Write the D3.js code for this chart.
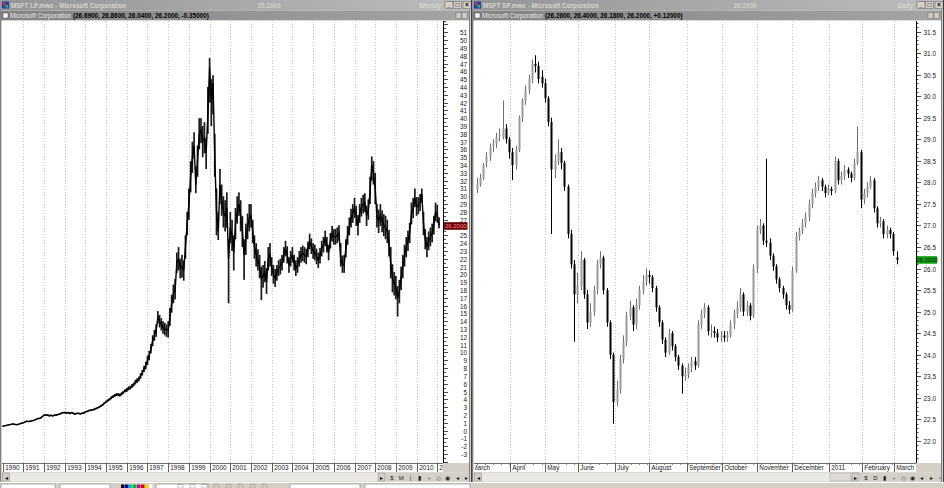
<!DOCTYPE html>
<html><head><meta charset="utf-8">
<script src="https://cdn.jsdelivr.net/npm/d3@7"></script>
<style>
html,body{margin:0;padding:0;background:#d4d0c8;overflow:hidden}
svg{display:block;font-family:"Liberation Sans",Arial,sans-serif}
</style></head><body>
<svg id="c" width="944" height="488"></svg>
<script>
// ---------- Left panel: weekly chart (monthly samples, Jan 1990 .. Feb 2011) ----------
const yearLabels = ['1990','1991','1992','1993','1994','1995','1996','1997','1998','1999','2000',
  '2001','2002','2003','2004','2005','2006','2007','2008','2009','2010','2011'];
const wClose = [
0.55,0.60,0.65,0.70,0.75,0.80,0.85,0.80,0.75,0.80,0.85,0.95,
1.00,1.10,1.20,1.15,1.20,1.25,1.30,1.40,1.50,1.55,1.60,1.80,
1.95,2.00,2.00,1.90,1.95,1.90,1.95,2.00,2.05,2.10,2.20,2.30,
2.30,2.25,2.30,2.20,2.30,2.20,2.10,2.20,2.20,2.15,2.20,2.25,
2.40,2.45,2.55,2.60,2.65,2.70,2.80,2.90,3.00,3.15,3.30,3.50,
3.70,3.85,4.00,4.20,4.35,4.50,4.60,4.60,4.55,4.70,4.90,5.10,
5.20,5.40,5.50,5.70,5.90,6.20,6.40,6.60,7.00,7.40,7.90,8.30,
9.00,9.60,10.5,11.5,12.2,12.8,14.5,14.0,13.6,13.2,13.0,12.9,
12.9,14.5,16.2,17.5,18.0,21.5,22.0,20.8,21.0,20.5,23.5,26.5,
29.0,32.5,35.0,36.5,31.5,34.5,38.0,38.5,37.0,37.5,35.5,40.5,
46.5,42.0,44.5,35.0,28.0,25.5,31.5,29.5,28.0,27.5,28.5,22.0,
26.0,25.0,22.8,26.5,28.0,29.0,27.5,25.5,22.5,24.5,26.0,27.2,
27.5,25.5,23.5,22.5,21.8,21.0,19.5,19.8,20.3,19.0,22.0,22.5,
21.0,20.0,19.5,20.2,20.8,21.0,21.5,22.5,23.3,22.5,21.2,22.0,
22.5,21.5,20.8,21.2,22.0,22.5,22.7,22.5,22.3,23.2,24.2,23.6,
23.0,22.8,22.3,21.8,22.4,23.3,23.8,24.6,23.8,22.8,24.3,25.2,
24.8,24.8,25.0,25.3,22.0,21.2,21.3,23.3,25.0,26.1,27.2,27.8,
28.5,27.5,26.3,27.8,28.6,29.0,29.2,27.5,28.3,30.5,34.0,33.0,
31.0,27.5,26.8,27.6,26.8,26.3,26.0,25.5,24.0,21.5,19.5,18.8,
18.3,17.0,17.8,19.5,21.0,22.4,23.5,24.3,25.3,27.8,28.5,29.8,
28.7,28.8,29.2,30.3,26.5,24.5,23.5,24.3,24.8,25.3,26.3,28.0,
27.5,26.3];
const wHigh = [
0.62,0.67,0.72,0.77,0.82,0.88,0.92,0.88,0.82,0.87,0.92,1.02,
1.08,1.18,1.28,1.24,1.28,1.33,1.38,1.48,1.58,1.64,1.70,1.90,
2.06,2.12,2.10,2.02,2.05,2.00,2.05,2.10,2.15,2.20,2.30,2.40,
2.42,2.36,2.40,2.32,2.40,2.32,2.22,2.30,2.30,2.26,2.30,2.36,
2.50,2.56,2.66,2.70,2.76,2.82,2.92,3.02,3.12,3.28,3.44,3.64,
3.85,4.00,4.15,4.38,4.52,4.68,4.80,4.80,4.74,4.90,5.10,5.30,
5.45,5.65,5.75,5.95,6.15,6.50,6.70,6.90,7.35,7.75,8.30,8.80,
9.60,10.2,11.1,12.2,12.9,13.6,15.3,14.8,14.4,14.0,13.8,13.6,
14.0,15.7,17.4,18.7,19.4,22.8,23.5,22.0,22.5,21.8,25.0,28.0,
31.0,34.5,37.0,38.2,33.8,36.5,40.0,40.0,39.0,39.5,37.5,44.0,
47.7,45.0,45.5,38.0,31.0,28.0,33.5,31.5,30.0,29.5,30.5,24.5,
28.0,27.0,25.0,28.5,30.0,30.5,29.5,27.5,24.5,26.5,27.8,29.0,
29.0,27.0,25.0,24.0,23.2,22.5,21.0,21.2,21.7,20.8,23.5,24.0,
22.2,21.2,20.7,21.2,21.8,22.0,22.5,23.5,24.3,23.6,22.2,23.0,
23.5,22.5,21.8,22.2,23.0,23.5,23.7,23.5,23.3,24.2,25.2,24.6,
24.0,23.8,23.3,22.8,23.4,24.3,24.8,25.6,24.8,23.8,25.3,26.2,
25.8,25.8,26.0,26.3,24.0,22.4,22.5,24.5,26.2,27.3,28.4,29.0,
29.8,28.8,27.6,29.0,29.8,30.2,30.4,28.8,29.6,32.5,35.1,34.5,
33.0,29.0,28.3,29.0,28.2,27.7,27.5,27.0,25.7,23.5,21.3,20.3,
19.8,18.5,19.3,21.0,22.5,23.8,24.8,25.6,26.6,29.2,29.8,31.0,
29.9,29.9,30.3,31.0,28.0,25.8,24.8,25.5,26.0,26.5,27.5,29.2,
28.9,27.3];
const wLow = [
0.50,0.55,0.60,0.65,0.70,0.75,0.78,0.74,0.70,0.74,0.80,0.88,
0.94,1.02,1.12,1.08,1.12,1.18,1.22,1.32,1.42,1.47,1.52,1.70,
1.86,1.90,1.90,1.80,1.85,1.80,1.85,1.90,1.95,2.00,2.10,2.20,
2.20,2.14,2.20,2.10,2.20,2.10,2.00,2.10,2.10,2.05,2.10,2.15,
2.30,2.35,2.44,2.50,2.55,2.60,2.70,2.80,2.90,3.02,3.16,3.36,
3.55,3.70,3.85,4.02,4.18,4.32,4.42,4.40,4.36,4.50,4.70,4.90,
4.95,5.15,5.25,5.45,5.65,5.90,6.10,6.30,6.65,7.05,7.50,7.85,
8.40,9.00,9.90,10.8,11.5,12.0,13.7,13.2,12.8,12.4,12.2,12.0,
11.9,13.4,15.1,16.3,16.8,20.2,20.5,19.5,19.6,19.2,22.0,25.0,
27.0,30.5,33.0,34.8,30.4,32.5,36.0,36.8,35.0,35.5,33.5,38.0,
42.0,39.0,40.5,32.5,25.0,24.4,29.0,27.5,26.0,25.5,26.0,16.3,
24.0,23.0,20.5,24.5,26.5,27.5,25.5,23.5,19.3,22.5,24.5,25.5,
26.0,24.0,22.0,21.0,20.5,19.5,16.7,18.3,19.0,17.5,20.5,21.0,
19.8,18.8,18.4,19.2,19.8,20.0,20.5,21.5,22.3,21.4,20.2,21.0,
21.5,20.5,19.8,20.2,21.0,21.5,21.7,21.5,21.3,22.2,23.2,22.6,
22.0,21.8,21.3,20.8,21.4,22.3,22.8,23.6,22.8,21.8,23.3,24.2,
23.8,23.8,24.0,24.3,21.0,20.2,20.2,22.2,23.8,25.0,26.0,26.6,
27.2,26.2,25.0,26.6,27.4,27.8,28.0,26.2,27.0,29.0,32.0,31.5,
29.0,26.0,25.3,26.2,25.4,24.9,24.5,24.0,22.3,19.5,17.7,17.3,
16.8,14.6,16.3,18.0,19.5,21.0,22.2,23.0,24.0,26.4,27.2,28.6,
27.5,27.7,28.1,29.2,25.0,23.2,22.2,23.1,23.6,24.1,25.1,26.8,
26.6,25.9];

// ---------- Right panel: daily candles (one candle per two sessions, Mar 2010 .. Mar 2011) ----------
const monthLabels = ['March','April','May','June','July','August','September','October',
  'November','December','2011','February','March'];
const monthStarts = [-1.9,10.2,20.9,31.1,42.5,53.1,64.5,75.4,86.2,96.9,108.2,118.4,128.1];
const dOpen = [
27.85,27.95,28.10,28.45,28.60,28.85,28.90,29.10,29.05,29.25,29.00,28.70,28.40,28.75,29.50,29.90,30.15,30.40,30.75,30.70,
30.45,30.30,29.95,29.40,28.30,28.50,28.70,28.45,27.90,26.80,26.10,25.40,25.60,26.20,25.40,24.75,25.00,25.50,26.10,26.25,
25.50,24.75,24.00,22.90,23.20,23.90,24.30,24.90,25.10,24.70,25.15,25.50,25.70,25.85,25.80,25.55,25.10,24.75,24.35,24.05,
24.50,24.20,23.95,23.75,23.50,23.55,23.70,23.85,23.75,24.70,24.95,25.10,24.55,24.55,24.50,24.40,24.45,24.40,24.45,24.70,
24.95,25.10,25.40,25.00,25.15,24.90,26.00,26.90,27.00,26.65,26.60,26.30,26.05,25.75,25.55,25.40,25.15,25.05,25.95,26.75,
26.88,27.05,27.20,27.50,27.75,27.90,28.05,27.90,27.75,27.85,27.80,28.50,28.05,28.15,28.30,28.20,28.10,28.45,28.70,27.60,
27.75,27.90,28.05,27.40,27.05,27.10,26.80,26.90,26.80,26.26];
const dHigh = [
28.10,28.20,28.45,28.70,28.90,29.00,29.15,29.25,29.90,29.35,29.05,28.80,28.85,29.55,29.95,30.25,30.50,30.85,30.95,30.80,
30.60,30.40,30.00,29.50,28.65,29.00,28.80,28.50,27.95,26.90,26.20,25.90,26.40,26.25,25.50,25.20,25.60,26.20,26.40,26.30,
25.55,24.80,24.05,23.40,24.00,24.45,25.00,25.25,25.15,25.30,25.60,25.85,26.00,25.95,25.85,25.60,25.15,24.80,24.40,24.60,
24.55,24.25,24.00,23.80,23.70,23.80,23.95,23.95,24.80,25.05,25.20,25.15,24.70,24.65,24.60,24.55,24.55,24.55,24.80,25.05,
25.25,25.55,25.45,25.25,25.20,26.10,27.00,27.15,27.05,28.55,26.70,26.35,26.10,25.80,25.60,25.45,25.25,26.05,26.85,26.95,
27.15,27.30,27.60,27.85,28.00,28.15,28.10,27.95,27.95,27.90,28.60,28.55,28.25,28.40,28.35,28.25,28.55,29.30,28.75,27.85,
28.00,28.15,28.10,27.45,27.20,27.15,27.00,26.95,26.85,26.40];
const dLow = [
27.75,27.90,28.05,28.35,28.50,28.70,28.80,28.95,29.00,28.90,28.55,28.05,28.30,28.70,29.40,29.80,30.05,30.30,30.55,30.30,
30.20,29.85,29.30,26.80,28.10,28.40,28.30,27.80,26.70,26.00,24.30,25.20,25.50,25.30,24.60,24.65,24.90,25.40,26.00,25.40,
24.65,23.90,22.40,22.80,23.10,23.80,24.20,24.80,24.55,24.60,25.05,25.40,25.60,25.65,25.45,25.00,24.65,24.25,23.95,24.00,
24.10,23.85,23.65,23.10,23.40,23.45,23.60,23.65,23.70,24.60,24.85,24.45,24.40,24.40,24.30,24.30,24.30,24.30,24.40,24.60,
24.85,25.00,24.90,24.90,24.80,24.85,25.90,26.80,26.55,26.50,26.20,25.95,25.65,25.45,25.30,25.05,24.95,25.00,25.90,26.65,
26.80,26.95,27.10,27.40,27.65,27.80,27.80,27.65,27.70,27.70,27.75,27.95,27.95,28.05,28.10,28.00,28.05,28.40,27.40,27.50,
27.65,27.85,27.30,26.95,26.95,26.70,26.70,26.70,26.30,26.10];
const dClose = [
27.95,28.10,28.40,28.60,28.80,28.90,29.05,29.10,29.25,29.00,28.70,28.40,28.75,29.50,29.90,30.15,30.40,30.75,30.70,30.40,
30.30,29.95,29.40,28.30,28.50,28.70,28.45,27.90,26.80,26.10,25.40,25.60,26.20,25.40,24.75,25.00,25.50,26.10,26.25,25.50,
24.75,24.00,22.90,23.20,23.90,24.30,24.90,25.10,24.70,25.15,25.50,25.70,25.85,25.80,25.55,25.10,24.75,24.35,24.05,24.50,
24.20,23.95,23.75,23.50,23.55,23.70,23.85,23.75,24.70,24.95,25.10,24.55,24.55,24.50,24.40,24.45,24.40,24.45,24.70,24.95,
25.10,25.40,25.00,25.15,24.90,26.00,26.90,27.00,26.65,26.60,26.30,26.05,25.75,25.55,25.40,25.15,25.05,25.95,26.75,26.88,
27.05,27.20,27.50,27.75,27.90,28.05,27.90,27.75,27.85,27.80,28.50,28.05,28.15,28.30,28.20,28.10,28.45,28.70,27.60,27.75,
27.90,28.05,27.40,27.05,27.10,26.80,26.90,26.80,26.40,26.20];

const lastPrice = 26.20;
const leftInfo = '(26.6900, 26.8600, 26.0400, 26.2000, -0.35000)';
const rightInfo = '(26.2600, 26.4000, 26.1800, 26.2000, +0.12000)';

// ---------------------------------------------------------------------------
const svg = d3.select('#c');
const defs = svg.append('defs');
function grad(id, a, b) {
  const g = defs.append('linearGradient').attr('id', id);
  g.append('stop').attr('offset', '0%').attr('stop-color', a);
  g.append('stop').attr('offset', '100%').attr('stop-color', b);
}
grad('tb', '#959595', '#bcbcbc');
grad('tb2', '#838383', '#a4a4a4');

const FS = 6.4;
const TOP = 21, BOT = 463;

function windowFrame(X, W, o) {
  const g = svg.append('g');
  g.append('rect').attr('x', X).attr('y', 0).attr('width', W).attr('height', 10).attr('fill', 'url(#tb)');
  g.append('rect').attr('x', X + 2).attr('y', 1.5).attr('width', 7).attr('height', 7).attr('fill', '#2040b0');
  g.append('rect').attr('x', X + 3).attr('y', 2.5).attr('width', 2.5).attr('height', 2.5).attr('fill', '#e03030');
  g.append('rect').attr('x', X + 5.5).attr('y', 5).attr('width', 2.5).attr('height', 2.5).attr('fill', '#30c040');
  g.append('text').attr('x', X + 11).attr('y', 7.6).attr('font-size', FS).attr('font-weight', 'bold')
    .attr('fill', '#d6d4ce').text(o.title);
  g.append('text').attr('x', o.priceX).attr('y', 7.6).attr('font-size', FS).attr('font-weight', 'bold')
    .attr('text-anchor', 'middle').attr('fill', '#d2d0ca').text('26.2000');
  g.append('text').attr('x', o.periodX).attr('y', 7.6).attr('font-size', FS).attr('font-weight', 'bold')
    .attr('text-anchor', 'end').attr('fill', '#d8d6d0').text(o.period);
  const bx = X + W - 27;
  ['_', '□', '×'].forEach((s, i) => {
    const x = bx + i * 8.5 + (i === 2 ? 1 : 0);
    g.append('rect').attr('x', x).attr('y', 1.5).attr('width', 8).attr('height', 7)
      .attr('fill', '#d4d0c8').attr('stroke', '#606060').attr('stroke-width', 0.5);
    g.append('text').attr('x', x + 4).attr('y', 7.2).attr('font-size', 6.5).attr('font-weight', 'bold')
      .attr('text-anchor', 'middle').attr('fill', '#000').text(s);
  });
  g.append('rect').attr('x', X + 1).attr('y', 10.5).attr('width', W - 3).attr('height', 10).attr('fill', 'url(#tb2)');
  g.append('rect').attr('x', X + 3).attr('y', 13).attr('width', 5).attr('height', 5).attr('fill', '#fff')
    .attr('stroke', '#404040').attr('stroke-width', 0.5);
  const t = g.append('text').attr('x', X + 10).attr('y', 18).attr('font-size', FS);
  t.append('tspan').attr('fill', '#e6e6e6').text('Microsoft Corporation ');
  t.append('tspan').attr('fill', '#000').attr('font-weight', 'bold').text(o.info);
  [0, 1].forEach(i => {
    const x = X + W - 16 + i * 6;
    g.append('rect').attr('x', x).attr('y', 12.5).attr('width', 5).attr('height', 6)
      .attr('fill', '#d4d0c8').attr('stroke', '#707070').attr('stroke-width', 0.5);
  });
  g.append('rect').attr('x', X + 2).attr('y', TOP - 0.5).attr('width', W - 5).attr('height', BOT - TOP + 0.5).attr('fill', '#fff');
  g.append('rect').attr('x', X + 2).attr('y', BOT).attr('width', o.axisX - X - 2).attr('height', 9).attr('fill', '#fff');
  g.append('line').attr('x1', X + 2).attr('x2', o.axisX).attr('y1', BOT + 0.5).attr('y2', BOT + 0.5).attr('stroke', '#707070');
  g.append('rect').attr('x', X + 2).attr('y', 472.5).attr('width', W - 5).attr('height', 9).attr('fill', '#ebe9e4');
  g.append('rect').attr('x', X + 2.5).attr('y', 473).attr('width', 7).attr('height', 8).attr('fill', '#d4d0c8')
    .attr('stroke', '#808080').attr('stroke-width', 0.5);
  g.append('text').attr('x', X + 6).attr('y', 479.5).attr('font-size', 6).attr('text-anchor', 'middle').text('◂');
  if (o.thumb) {
    g.append('rect').attr('x', o.thumb[0]).attr('y', 473).attr('width', o.thumb[1]).attr('height', 8)
      .attr('fill', '#dddad3').attr('stroke', '#a0a0a0').attr('stroke-width', 0.5);
  }
  g.append('rect').attr('x', o.tools - 8).attr('y', 473).attr('width', 7).attr('height', 8).attr('fill', '#d4d0c8')
    .attr('stroke', '#808080').attr('stroke-width', 0.5);
  g.append('text').attr('x', o.tools - 4.5).attr('y', 479.5).attr('font-size', 6).attr('text-anchor', 'middle').text('▸');
  g.append('rect').attr('x', o.tools).attr('y', 472.5).attr('width', X + W - 3 - o.tools).attr('height', 9).attr('fill', '#d4d0c8');
  o.glyphs.forEach((s, i) => {
    g.append('text').attr('x', o.tools + 6 + i * 9.3).attr('y', 479.6).attr('font-size', 6)
      .attr('text-anchor', 'middle').attr('fill', s === '+' || s === '◎' ? '#707070' : '#202020').text(s);
  });
  g.append('line').attr('x1', X + 0.5).attr('x2', X + 0.5).attr('y1', 10).attr('y2', 482).attr('stroke', '#808080');
  g.append('line').attr('x1', X + W - 2.5).attr('x2', X + W - 2.5).attr('y1', 10).attr('y2', 482).attr('stroke', '#808080');
  g.append('line').attr('x1', X + W - 0.5).attr('x2', X + W - 0.5).attr('y1', 0).attr('y2', 482).attr('stroke', '#404040');
}

windowFrame(0, 472, {title: 'MSFT LP.mwc - Microsoft Corporation', priceX: 269, period: 'Weekly', periodX: 441,
  info: leftInfo, axisX: 443, tools: 386, glyphs: ['$', 'M', '|', '▮', '+', '◎', '◉', '◂', '▸', '▫']});
windowFrame(472, 472, {title: 'MSFT SP.mwc - Microsoft Corporation', priceX: 745, period: 'Daily', periodX: 913,
  info: rightInfo, axisX: 916, tools: 860, thumb: [830, 21], glyphs: ['$', 'D', '▮', '+', '◎', '◉', '◂', '▸', '▫']});

defs.append('clipPath').attr('id', 'clipL').append('rect').attr('x', 2).attr('y', TOP).attr('width', 441).attr('height', BOT - TOP);
defs.append('clipPath').attr('id', 'clipR').append('rect').attr('x', 475).attr('y', TOP).attr('width', 441).attr('height', BOT - TOP);
defs.append('clipPath').attr('id', 'stripL').append('rect').attr('x', 2).attr('y', BOT).attr('width', 441).attr('height', 9);
defs.append('clipPath').attr('id', 'stripR').append('rect').attr('x', 475).attr('y', BOT).attr('width', 441).attr('height', 9);

// ---------- Left chart ----------
const xL = d3.scaleLinear().domain([0, 252]).range([2.6, 437.3]);
const yL = d3.scaleLinear().domain([-3, 51]).range([454.0, 32.3]);
const gL = svg.append('g').attr('clip-path', 'url(#clipL)');
yearLabels.forEach((lab, k) => {
  if (k === 0) return;
  const x = Math.round(xL(k * 12)) + 0.5;
  gL.append('line').attr('x1', x).attr('x2', x).attr('y1', TOP).attr('y2', BOT)
    .attr('stroke', '#c8c8c8').attr('stroke-dasharray', '1,2');
});
const sL = svg.append('g').attr('clip-path', 'url(#stripL)');
yearLabels.forEach((lab, k) => {
  const x = Math.round(xL(k * 12)) + 0.5;
  sL.append('line').attr('x1', x).attr('x2', x).attr('y1', BOT).attr('y2', BOT + 9).attr('stroke', '#606060');
  sL.append('text').attr('x', x + 1.8).attr('y', BOT + 7.3).attr('font-size', FS).attr('fill', '#202020').text(lab);
});
gL.selectAll('rect.bar').data(wClose).enter().append('rect')
  .attr('x', (d, i) => xL(i) - 0.85).attr('width', 1.7)
  .attr('y', (d, i) => yL(wHigh[i])).attr('height', (d, i) => Math.max(0.8, yL(wLow[i]) - yL(wHigh[i])))
  .attr('fill', '#1a1a1a');
gL.append('path').datum(wClose)
  .attr('d', d3.line().x((d, i) => xL(i)).y(d => yL(d)))
  .attr('fill', 'none').attr('stroke', '#000').attr('stroke-width', 1.4);

// left y axis
const aL = svg.append('g');
const markL = yL(lastPrice);
aL.append('line').attr('x1', 443.5).attr('x2', 443.5).attr('y1', TOP).attr('y2', BOT).attr('stroke', '#000');
d3.range(-4, 53, 0.5).forEach(v => {
  const y = Math.round(yL(v)) + 0.5;
  if (y < TOP || y > BOT) return;
  const major = Number.isInteger(v);
  aL.append('line').attr('x1', 443.5).attr('x2', major ? 448 : 446).attr('y1', y).attr('y2', y).attr('stroke', '#000').attr('stroke-width', 0.7);
  if (major && v >= -3 && v <= 51 && Math.abs(y - markL) > 4.5)
    aL.append('text').attr('x', 467).attr('y', y + 2.3).attr('font-size', FS).attr('text-anchor', 'end')
      .attr('fill', '#202020').text(v);
});
aL.append('rect').attr('x', 444).attr('y', markL - 3.8).attr('width', 23.5).attr('height', 7.6).attr('fill', '#6a0000');
aL.append('text').attr('x', 455.8).attr('y', markL + 2.3).attr('font-size', 6).attr('text-anchor', 'middle')
  .attr('fill', '#ff8c8c').text(lastPrice.toFixed(4));

// ---------- Right chart ----------
const xR = d3.scaleLinear().domain([0, 129]).range([476.5, 896.5]);
const yR = d3.scaleLinear().domain([22, 31.5]).range([441, 31.5]);
const gR = svg.append('g').attr('clip-path', 'url(#clipR)');
monthStarts.forEach((m, k) => {
  const x = Math.round(xR(m)) + 0.5;
  gR.append('line').attr('x1', x).attr('x2', x).attr('y1', TOP).attr('y2', BOT)
    .attr('stroke', '#c8c8c8').attr('stroke-dasharray', '1,2');
});
const sR = svg.append('g').attr('clip-path', 'url(#stripR)');
d3.range(0, 130, 2.5).forEach(m => {
  const x = Math.round(xR(m)) + 0.5;
  sR.append('line').attr('x1', x).attr('x2', x).attr('y1', BOT).attr('y2', BOT + 2).attr('stroke', '#606060').attr('stroke-width', 0.7);
});
monthLabels.forEach((lab, k) => {
  const x = Math.round(xR(monthStarts[k])) + 0.5;
  sR.append('line').attr('x1', x).attr('x2', x).attr('y1', BOT).attr('y2', BOT + 9).attr('stroke', '#606060');
  sR.append('text').attr('x', x + 1.8).attr('y', BOT + 7.3).attr('font-size', FS).attr('fill', '#202020').text(lab);
});
const candles = gR.selectAll('g.c').data(dClose).enter().append('g');
candles.append('line')
  .attr('x1', (d, i) => Math.round(xR(i)) + 0.5).attr('x2', (d, i) => Math.round(xR(i)) + 0.5)
  .attr('y1', (d, i) => yR(dHigh[i])).attr('y2', (d, i) => yR(dLow[i]))
  .attr('stroke', (d, i) => d >= dOpen[i] ? '#6e6e6e' : '#000').attr('stroke-width', 1);
candles.append('rect')
  .attr('x', (d, i) => Math.round(xR(i)) - 0.5).attr('width', 2)
  .attr('y', (d, i) => yR(Math.max(d, dOpen[i])))
  .attr('height', (d, i) => Math.max(1, Math.abs(yR(d) - yR(dOpen[i]))))
  .attr('fill', (d, i) => d >= dOpen[i] ? '#999999' : '#000');

// right y axis
const aR = svg.append('g');
const markR = yR(lastPrice);
aR.append('line').attr('x1', 916.5).attr('x2', 916.5).attr('y1', TOP).attr('y2', BOT).attr('stroke', '#000');
d3.range(214, 318, 1).forEach(t => {
  const v = t / 10;
  const y = Math.round(yR(v)) + 0.5;
  if (y < TOP || y > BOT) return;
  const major = t % 5 === 0;
  aR.append('line').attr('x1', 916.5).attr('x2', major ? 921 : 918.5).attr('y1', y).attr('y2', y).attr('stroke', '#000').attr('stroke-width', 0.7);
  if (major && Math.abs(y - markR) > 4.5)
    aR.append('text').attr('x', 936).attr('y', y + 2.3).attr('font-size', FS).attr('text-anchor', 'end')
      .attr('fill', '#202020').text(v.toFixed(1));
});
aR.append('rect').attr('x', 917).attr('y', markR - 3.8).attr('width', 20).attr('height', 7.6).attr('fill', '#12a012');
aR.append('text').attr('x', 927).attr('y', markR + 2.3).attr('font-size', 6).attr('text-anchor', 'middle')
  .attr('fill', '#002200').text(lastPrice.toFixed(4));

// ---------- bottom toolbar ----------
const tb = svg.append('g');
tb.append('rect').attr('x', 0).attr('y', 482).attr('width', 944).attr('height', 6).attr('fill', '#d4d0c8');
tb.append('line').attr('x1', 0).attr('x2', 944).attr('y1', 482.5).attr('y2', 482.5).attr('stroke', '#fff');
[[1, 54], [60, 50], [156, 52], [290, 70], [365, 105]].forEach(b => {
  tb.append('rect').attr('x', b[0]).attr('y', 484).attr('width', b[1]).attr('height', 5)
    .attr('fill', '#fff').attr('stroke', '#808080').attr('stroke-width', 0.6);
});
['#000', '#0000c0', '#00c0c0', '#00c000', '#c000c0', '#e00000', '#e0e000', '#fff'].forEach((c, i) => {
  tb.append('rect').attr('x', 121 + i * 4).attr('y', 484.5).attr('width', 3.5).attr('height', 3.5).attr('fill', c);
});
[178, 190, 202, 214, 226, 238, 250, 262].forEach(x => {
  tb.append('rect').attr('x', x).attr('y', 484.5).attr('width', 5).attr('height', 3.5).attr('fill', 'none')
    .attr('stroke', '#909090').attr('stroke-width', 0.5);
});
</script>
</body></html>
